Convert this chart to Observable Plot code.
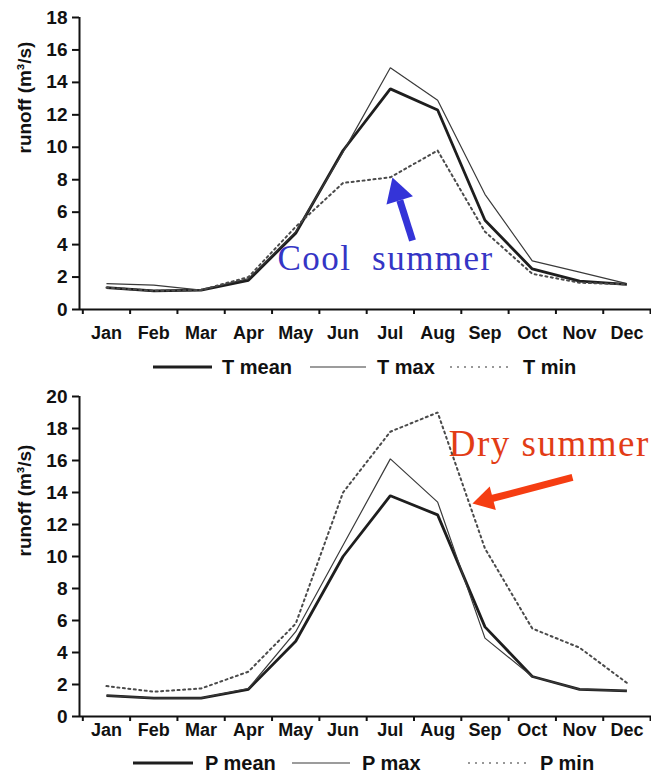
<!DOCTYPE html>
<html>
<head>
<meta charset="utf-8">
<script src="https://cdn.jsdelivr.net/npm/d3@7"></script>
<script src="https://cdn.jsdelivr.net/npm/@observablehq/plot@0.6"></script>
<style>
  body { margin: 0; background: #fff; width: 651px; height: 776px; overflow: hidden; }
  svg { display: block; }
</style>
</head>
<body>
<div id="top"></div>
<div id="topLegend"></div>
<div id="bottom"></div>
<div id="bottomLegend"></div>
<script>
// ---- data ----
const months = ["Jan","Feb","Mar","Apr","May","Jun","Jul","Aug","Sep","Oct","Nov","Dec"];
const tMean = [1.35, 1.15, 1.2, 1.8, 4.7, 9.8, 13.6, 12.3, 5.5, 2.5, 1.75, 1.55];
const tMax  = [1.6, 1.5, 1.2, 1.9, 4.8, 9.7, 14.9, 12.9, 7.1, 3.0, 2.3, 1.6];
const tMin  = [1.35, 1.15, 1.2, 2.0, 5.1, 7.8, 8.15, 9.8, 4.8, 2.2, 1.65, 1.55];
const pMean = [1.3, 1.15, 1.15, 1.7, 4.7, 10.0, 13.8, 12.6, 5.6, 2.5, 1.7, 1.6];
const pMax  = [1.3, 1.15, 1.15, 1.75, 5.3, 10.7, 16.1, 13.4, 4.9, 2.5, 1.7, 1.6];
const pMin  = [1.9, 1.55, 1.75, 2.8, 5.8, 14.0, 17.8, 19.0, 10.5, 5.5, 4.3, 2.1];
const topSeries = ["T mean", "T max", "T min"];
const bottomSeries = ["P mean", "P max", "P min"];
const topTicks = [0, 2, 4, 6, 8, 10, 12, 14, 16, 18];
const bottomTicks = [0, 2, 4, 6, 8, 10, 12, 14, 16, 18, 20];
const yLabel = "runoff (m\u00b3/s)";
const topNote = "Cool\u00a0\u00a0summer";
const bottomNote = "Dry summer";

// ---- styles ----
const styles = [
  {stroke: "#1e1e1e", strokeWidth: 2.8, dash: null},
  {stroke: "#3a3a3a", strokeWidth: 1.2, dash: null},
  {stroke: "#4a4a4a", strokeWidth: 2, dash: "2 3.5"}
];
const xDomain = [-0.07, 12.02];

function rows(values) { return values.map((v, i) => ({x: i + 0.5, v})); }

function chart({series, ticks, yMax, height, marginTop, marginBottom, labelDy, yLabelDy, extra}) {
  const lines = series.map((vals, k) => Plot.line(rows(vals), {
    x: "x", y: "v", stroke: styles[k].stroke, strokeWidth: styles[k].strokeWidth,
    strokeDasharray: styles[k].dash, strokeLinejoin: "miter", strokeLinecap: styles[k].dash ? "round" : "butt"
  }));
  return Plot.plot({
    width: 651, height, marginTop, marginBottom, marginLeft: 79, marginRight: 0,
    style: {fontFamily: "'Liberation Sans', Arial, sans-serif", fontSize: "18px", fontWeight: "bold", color: "#111", background: "#fff"},
    x: {type: "linear", domain: xDomain},
    y: {domain: [0, yMax]},
    marks: [
      ...lines,
      ...extra,
      Plot.ruleY([0], {strokeWidth: 2, stroke: "#111"}),
      Plot.ruleX([xDomain[0]], {strokeWidth: 2, stroke: "#111"}),
      Plot.axisX(d3.range(13), {tickSize: 5, tickFormat: () => "", strokeWidth: 2, label: null}),
      Plot.axisY(ticks, {tickSize: 7, tickPadding: 5, fontSize: 19, fontWeight: "bold", strokeWidth: 2, label: null}),
      Plot.text(months, {x: (d, i) => i + 0.5, frameAnchor: "bottom", dy: labelDy, fontSize: 18, fontWeight: "bold", fill: "#111"}),
      Plot.text([yLabel], {frameAnchor: "left", dx: -55, dy: yLabelDy, rotate: -90, fontSize: 19, fontWeight: "bold", fill: "#111"})
    ]
  });
}

// annotations (top): arrow + text
const blue = "#3434d8";
const topExtra = [
  Plot.link([0], {x1: 6.969, y1: 4.25, x2: 6.70, y2: 6.73, stroke: blue, strokeWidth: 7}),
  Plot.dot([0], {x: 6.647, y: 7.195, symbol: "triangle", r: 10.3, rotate: -17.6, fill: blue, stroke: "none"}),
  Plot.text([topNote], {x: 6.40, y: 3.15, fontFamily: "'Liberation Serif', 'Times New Roman', serif", fontWeight: "normal", fontSize: 35, fill: "#3535c5"})
];
const red = "#f53d12";
const bottomExtra = [
  Plot.link([0], {x1: 10.35, y1: 14.94, x2: 8.626, y2: 13.61, stroke: red, strokeWidth: 7}),
  Plot.dot([0], {x: 8.522, y: 13.53, symbol: "triangle", r: 9.0, rotate: -104.6, fill: red, stroke: "none"}),
  Plot.text([bottomNote], {x: 9.86, y: 17.05, fontFamily: "'Liberation Serif', 'Times New Roman', serif", fontWeight: "normal", fontSize: 37, fill: "#e23c16"})
];

const topChart = chart({series: [tMean, tMax, tMin], ticks: topTicks, yMax: 18, height: 352, marginTop: 17, marginBottom: 43, labelDy: 29, yLabelDy: -10, extra: topExtra});
const bottomChart = chart({series: [pMean, pMax, pMin], ticks: bottomTicks, yMax: 20, height: 370, marginTop: 16, marginBottom: 34, labelDy: 19, yLabelDy: 0, extra: bottomExtra});

d3.select(topChart).selectAll("text").filter(function() { return this.textContent.includes("summer"); }).style("letter-spacing", "1.5px");
d3.select(bottomChart).selectAll("text").filter(function() { return this.textContent.includes("summer"); }).style("letter-spacing", "1.5px");

document.getElementById("top").appendChild(topChart);
document.getElementById("bottom").appendChild(bottomChart);

// ---- legends ----
function legend(el, names, h, cy, layout) {
  const svg = d3.select(el).append("svg").attr("width", 651).attr("height", h)
    .style("font-family", "'Liberation Sans', Arial, sans-serif");
  names.forEach((name, k) => {
    const L = layout[k];
    svg.append("line").attr("x1", L[0]).attr("x2", L[1]).attr("y1", cy).attr("y2", cy)
      .attr("stroke", k === 2 ? "#777" : styles[k].stroke)
      .attr("stroke-width", k === 0 ? 2.8 : (k === 1 ? 1.2 : 1.4))
      .attr("stroke-dasharray", k === 2 ? "2 5" : null);
    svg.append("text").attr("x", L[2]).attr("y", cy).attr("dy", "0.36em")
      .attr("font-size", 20).attr("font-weight", "bold").attr("fill", "#111").text(name);
  });
}
legend("#topLegend", topSeries, 28, 15, [[153, 212, 222], [310, 366, 377], [450, 510, 523]]);
legend("#bottomLegend", bottomSeries, 26, 13, [[133, 193, 205], [292, 350, 362], [468, 528, 540]]);
</script>
</body>
</html>
